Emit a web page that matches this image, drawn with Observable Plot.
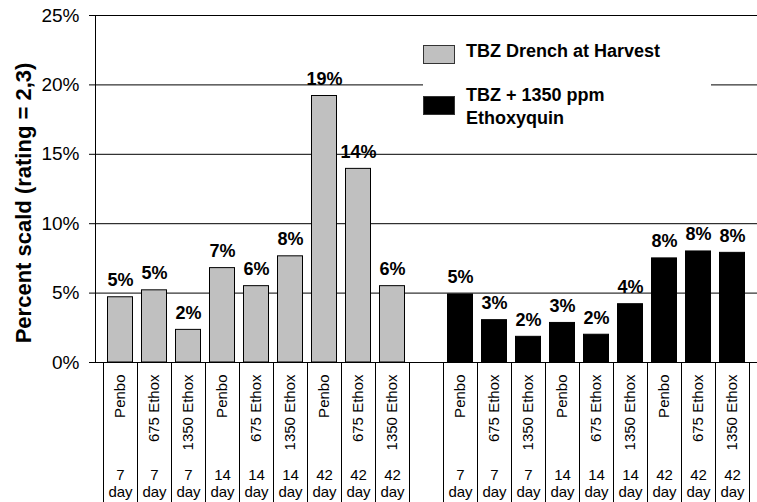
<!DOCTYPE html>
<html>
<head>
<meta charset="utf-8">
<script src="https://cdn.jsdelivr.net/npm/d3@7"></script>
<script src="https://cdn.jsdelivr.net/npm/@observablehq/plot@0.6"></script>
<style>
  body { margin: 0; background: #fff; }
  #chart { position: relative; width: 757px; height: 502px; font-family: "Liberation Sans", Arial, sans-serif; color: #000; }
  #ytitle { position: absolute; left: 24px; top: 203px; transform: translate(-50%, -50%) rotate(-90deg); white-space: nowrap; font-weight: bold; font-size: 22px; }
  #legend { position: absolute; left: 423px; top: 25px; width: 288px; height: 118px; background: #fff; }
  .sw { position: absolute; left: 0; width: 32px; height: 19px; box-sizing: border-box; border: 1px solid #333; }
  .lt { position: absolute; left: 43px; font-weight: bold; font-size: 18px; white-space: nowrap; }
</style>
</head>
<body>
<div id="chart"></div>
<script>
// ---- data ----
const groups = ["TBZ Drench at Harvest", "TBZ + 1350 ppm\nEthoxyquin"];
const groupColors = ["#c0c0c0", "#000000"];
const treatments = ["Penbo", "675 Ethox", "1350 Ethox", "Penbo", "675 Ethox", "1350 Ethox", "Penbo", "675 Ethox", "1350 Ethox"];
const storageDays = ["7", "7", "7", "14", "14", "14", "42", "42", "42"];
const tbzValues = [4.7, 5.2, 2.35, 6.8, 5.5, 7.65, 19.2, 13.95, 5.5];
const ethoxValues = [4.9, 3.05, 1.85, 2.85, 2.0, 4.2, 7.5, 8.0, 7.9];
const tbzLabels = ["5%", "5%", "2%", "7%", "6%", "8%", "19%", "14%", "6%"];
const ethoxLabels = ["5%", "3%", "2%", "3%", "2%", "4%", "8%", "8%", "8%"];
const yTicks = [0, 5, 10, 15, 20, 25];
const yTitle = "Percent scald (rating = 2,3)";

// ---- build table ----
const rows = [
  ...tbzValues.map((v, i) => ({key: "A" + i, group: groups[0], treatment: treatments[i], day: storageDays[i], value: v, label: tbzLabels[i]})),
  ...ethoxValues.map((v, i) => ({key: "B" + i, group: groups[1], treatment: treatments[i], day: storageDays[i], value: v, label: ethoxLabels[i]}))
];
const domain = [...tbzValues.map((_, i) => "A" + i), "gap", ...ethoxValues.map((_, i) => "B" + i)];

const plot = Plot.plot({
  width: 757,
  height: 502,
  marginLeft: 95,
  marginRight: 0,
  marginTop: 15,
  marginBottom: 140,
  style: {fontFamily: "Liberation Sans, Arial, sans-serif", fontSize: "19px", background: "white", color: "black", overflow: "visible"},
  x: {type: "band", domain, padding: 0, axis: null},
  y: {domain: [0, 25], ticks: yTicks, tickFormat: d => d + "%", tickSize: 6, tickPadding: 10, label: null, line: true},
  color: {domain: groups, range: groupColors},
  marks: [
    Plot.ruleY(yTicks.filter(d => d > 0), {stroke: "#000", strokeWidth: 1}),
    Plot.text(rows, {x: "key", y: "value", text: "label", dy: -11, lineAnchor: "bottom", fontWeight: "bold", fontSize: 18, fill: "#000", ariaLabel: "value labels"}),
    Plot.barY(rows, {x: "key", y: "value", fill: "group", stroke: "#000", strokeWidth: 1, insetLeft: 4.5, insetRight: 4.5}),
    Plot.ruleY([0], {stroke: "#000"}),
    Plot.text(rows, {x: "key", y: 0, text: "treatment", rotate: -90, textAnchor: "end", lineAnchor: "middle", dy: 12, fontSize: 15, fill: "#000"}),
    Plot.text(rows, {x: "key", y: 0, text: d => d.day + "\nday", dy: 120.5, lineAnchor: "middle", lineHeight: 1.13, fontSize: 15, fill: "#000"})
  ]
});

const chart = document.getElementById("chart");
chart.appendChild(plot);

// white boxes behind the value labels (mask gridlines like the original)
d3.select(plot).selectAll('g[aria-label="value labels"] text').each(function () {
  const b = this.getBBox();
  const r = document.createElementNS("http://www.w3.org/2000/svg", "rect");
  r.setAttribute("x", b.x - 4);
  r.setAttribute("y", b.y - 7);
  r.setAttribute("width", b.width + 8);
  r.setAttribute("height", b.height + 14);
  r.setAttribute("fill", "#fff");
  const t = this.getAttribute("transform");
  if (t) r.setAttribute("transform", t);
  this.parentNode.insertBefore(r, this);
});

// category separators below the axis, using the plot's x scale
const xs = plot.scale("x"), ys = plot.scale("y");
const y0 = ys.apply(0);
const edges = domain.map(k => xs.apply(k));
edges.push(xs.apply(domain[domain.length - 1]) + xs.bandwidth);
d3.select(plot).append("g")
  .selectAll("line").data(edges).join("line")
  .attr("x1", d => Math.round(d) + 0.5).attr("x2", d => Math.round(d) + 0.5)
  .attr("y1", y0).attr("y2", +plot.getAttribute("height"))
  .attr("stroke", "#000");

// y title
const yt = document.createElement("div");
yt.id = "ytitle";
yt.textContent = yTitle;
chart.appendChild(yt);

// legend
const lg = document.createElement("div");
lg.id = "legend";
const swTops = [20, 71], txTops = [15.5, 59];
groups.forEach((g, i) => {
  const sw = document.createElement("div");
  sw.className = "sw";
  sw.style.top = swTops[i] + "px";
  sw.style.background = groupColors[i];
  lg.appendChild(sw);
  const tx = document.createElement("div");
  tx.className = "lt";
  tx.style.top = txTops[i] + "px";
  tx.style.lineHeight = i === 0 ? "21px" : "23px";
  tx.innerHTML = g.split("\n").join("<br>");
  lg.appendChild(tx);
});
chart.appendChild(lg);
</script>
</body>
</html>
